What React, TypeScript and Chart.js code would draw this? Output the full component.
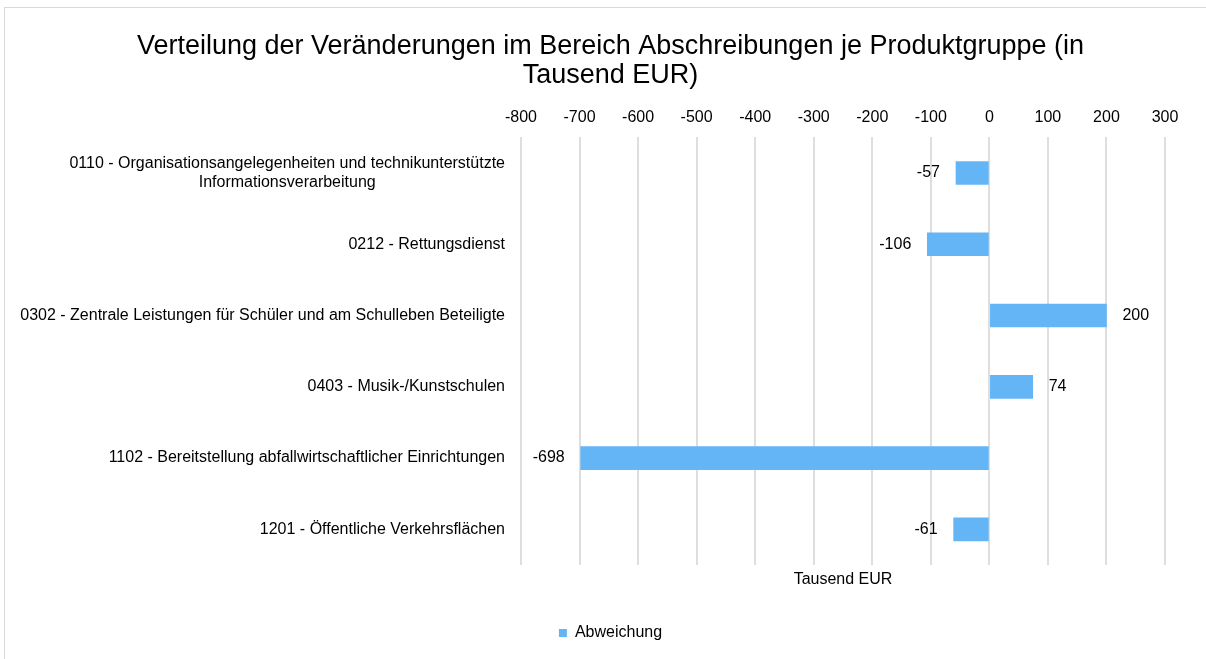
import React, { useEffect, useRef } from "react";
import { Chart, registerables } from "chart.js";

Chart.register(...registerables);

const titleLines = [
  "Verteilung der Veränderungen im Bereich Abschreibungen je Produktgruppe (in",
  "Tausend EUR)",
];
const categories: string[][] = [
  ["0110 - Organisationsangelegenheiten und technikunterstützte", "Informationsverarbeitung"],
  ["0212 - Rettungsdienst"],
  ["0302 - Zentrale Leistungen für Schüler und am Schulleben Beteiligte"],
  ["0403 - Musik-/Kunstschulen"],
  ["1102 - Bereitstellung abfallwirtschaftlicher Einrichtungen"],
  ["1201 - Öffentliche Verkehrsflächen"],
];
const abweichung = [-57, -106, 200, 74, -698, -61];
const seriesName = "Abweichung";
const axisTitle = "Tausend EUR";
const xMin = -800;
const xMax = 300;
const xStep = 100;

const FONT = "'Liberation Sans', Arial, sans-serif";
const BAR_COLOR = "#64b5f6";
const FS = 16;

const labelsPlugin = {
  id: "customLabels",
  afterDatasetsDraw(chart: any) {
    const ctx = chart.ctx;
    ctx.save();
    ctx.font = `${FS}px ${FONT}`;
    ctx.fillStyle = "#000";
    ctx.textBaseline = "middle";
    // data labels
    const meta = chart.getDatasetMeta(0);
    meta.data.forEach((bar: any, i: number) => {
      const v = abweichung[i];
      if (v >= 0) {
        ctx.textAlign = "left";
        ctx.fillText(String(v), bar.x + 16, bar.y);
      } else {
        ctx.textAlign = "right";
        ctx.fillText(String(v), bar.x - 16, bar.y);
      }
    });
    // category labels
    const yScale = chart.scales.y;
    const right = chart.chartArea.left - 16;
    const lh = 19;
    categories.forEach((lines, i) => {
      const cy = yScale.getPixelForTick(i);
      const maxW = Math.max(...lines.map((l) => ctx.measureText(l).width));
      const cx = right - maxW / 2;
      ctx.textAlign = "center";
      lines.forEach((l, j) => {
        const y = cy + (j - (lines.length - 1) / 2) * lh;
        ctx.fillText(l, cx, y);
      });
    });
    ctx.restore();
  },
};

export default function App() {
  const ref = useRef<HTMLCanvasElement | null>(null);
  useEffect(() => {
    if (!ref.current) return;
    Chart.defaults.font.family = FONT;
    const chart = new Chart(ref.current, {
      type: "bar",
      data: {
        labels: categories.map((c) => c.join(" ")),
        datasets: [
          {
            label: seriesName,
            data: abweichung,
            backgroundColor: BAR_COLOR,
            borderWidth: 0,
            barThickness: 23,
          },
        ],
      },
      options: {
        indexAxis: "y",
        animation: false,
        responsive: false,
        layout: { padding: { left: 0, right: 0, top: 0, bottom: 17 } },
        plugins: {
          title: {
            display: true,
            text: titleLines,
            color: "#000",
            font: { size: 27, family: FONT, weight: "normal", lineHeight: 1.04 },
            padding: { top: 25, bottom: 9 },
          },
          legend: {
            display: true,
            position: "bottom",
            labels: {
              boxWidth: 8,
              boxHeight: 8,
              color: "#000",
              font: { size: FS, family: FONT },
              padding: 10,
            },
          },
          tooltip: { enabled: false },
        },
        scales: {
          x: {
            type: "linear",
            position: "top",
            min: xMin,
            max: xMax,
            ticks: {
              stepSize: xStep,
              color: "#000",
              font: { size: FS, family: FONT },
              padding: 10,
            },
            grid: { color: "#dedede", lineWidth: 2, drawTicks: false },
            border: { display: false },
          },
          x2: {
            type: "linear",
            position: "bottom",
            min: xMin,
            max: xMax,
            ticks: { display: false },
            grid: { display: false, drawTicks: false },
            border: { display: false },
            title: {
              display: true,
              text: axisTitle,
              color: "#000",
              font: { size: FS, family: FONT },
              padding: { top: 4, bottom: 25.4 },
            },
            afterFit: (s: any) => {
              s.height = 50;
            },
          },
          y: {
            type: "category",
            ticks: { display: false },
            grid: { display: false, drawTicks: false },
            border: { display: false },
            afterFit: (s: any) => {
              s.width = 516;
            },
          },
          y2: {
            type: "linear",
            position: "right",
            ticks: { display: false },
            grid: { display: false, drawTicks: false },
            border: { display: false },
            afterFit: (s: any) => {
              s.width = 51;
            },
          },
        },
      },
      plugins: [labelsPlugin],
    } as any);
    return () => chart.destroy();
  }, []);

  return (
    <div style={{ position: "fixed", inset: 0, overflow: "hidden", background: "#fff" }}>
      <div
        style={{
          position: "absolute",
          left: 4,
          top: 7,
          width: 1213,
          height: 662,
          border: "1px solid #d9d9d9",
          boxSizing: "border-box",
          background: "#fff",
        }}
      >
        <canvas ref={ref} width={1211} height={660} style={{ display: "block" }} />
      </div>
    </div>
  );
}
